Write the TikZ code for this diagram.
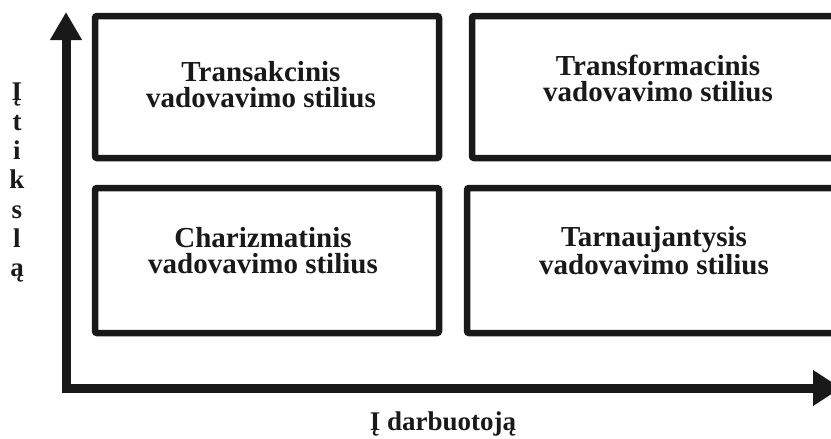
\documentclass[tikz,border=0pt]{standalone}
\usepackage{fontspec}
\setmainfont{Liberation Serif}
\usetikzlibrary{arrows.meta}
\tikzset{
  quad/.style={line width=6.5pt, rounded corners=2pt, draw=black!90},
  axisline/.style={line width=9pt, draw=black!90, line join=miter,
    arrows={Triangle[width=30pt,length=28pt]-Triangle[width=34pt,length=28pt]}},
  boxtext/.style={anchor=north, inner sep=0pt, align=center,
    font=\fontsize{29}{26}\selectfont\bfseries, text=black!90},
  axislabel/.style={inner sep=0pt, align=center,
    font=\fontsize{27}{29.3}\selectfont\bfseries, text=black!90}
}
\begin{document}
\begin{tikzpicture}[x=1pt,y=-1pt]
\useasboundingbox (0,0) rectangle (831,439);
% quadrant boxes
\draw[quad] (95,16) rectangle (439,158);
\draw[quad] (472,16) rectangle (860,158);
\draw[quad] (95,188) rectangle (439,333);
\draw[quad] (467,188) rectangle (860,333);
% texts
\node[boxtext] (tl) at (261,61.5) {Transakcinis\\vadovavimo stilius};
\node[boxtext] (tr) at (658,54.5) {Transformacinis\\vadovavimo stilius};
\node[boxtext] (bl) at (263,227.5) {Charizmatinis\\vadovavimo stilius};
\node[boxtext] (br) at (654,226.5) {Tarnaujantysis\\vadovavimo stilius};
% axes
\coordinate (origin) at (66,388);
\coordinate (ytip) at (66,12);
\coordinate (xtip) at (841,388);
\draw[axisline] (ytip) -- (origin) -- (xtip);
% axis labels
\node[axislabel, anchor=north] (ylab) at (17,83) {Į\\t\\i\\k\\s\\l\\ą};
\node[axislabel, anchor=base] (xlab) at (443,430) {Į darbuotoją};
\end{tikzpicture}
\end{document}
